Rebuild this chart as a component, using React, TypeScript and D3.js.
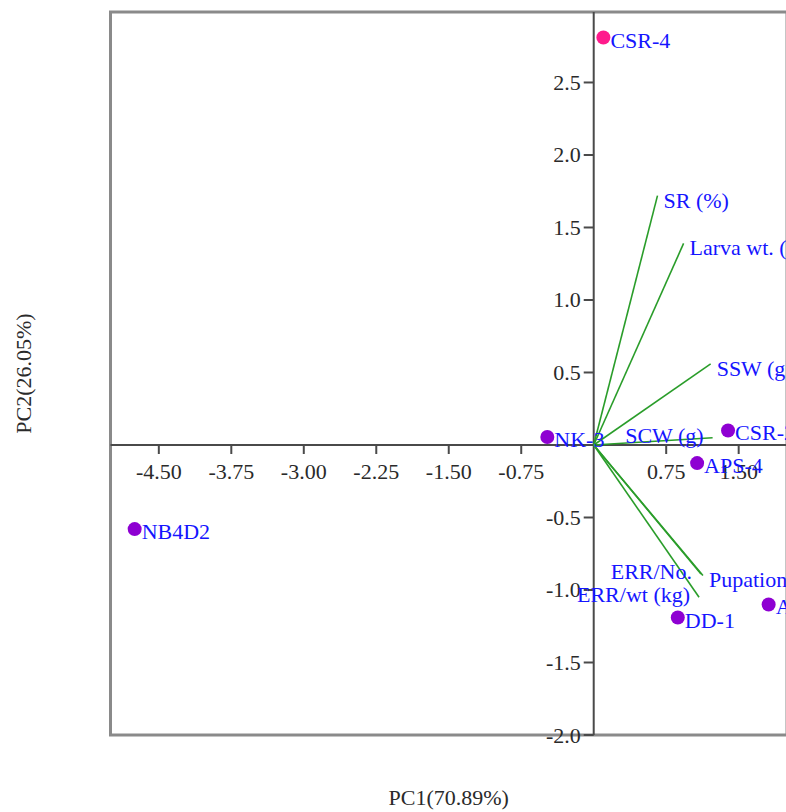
import React from "react";
import * as d3 from "d3";

// Observations (scores)
const obsNames = ["CSR-4", "NK-3", "CSR-2", "APS-4", "DD-1", "APS-1", "NB4D2"];
const obsPC1 = [0.1, -0.48, 1.39, 1.07, 0.87, 1.81, -4.75];
const obsPC2 = [2.81, 0.055, 0.1, -0.125, -1.19, -1.1, -0.58];
const highlighted = ["CSR-4"];

// Variables (loadings)
const varNames = ["SR (%)", "Larva wt. (g)", "SSW (g)", "SCW (g)", "Pupation (%)", "ERR/No.", "ERR/wt (kg)"];
const varPC1 = [0.66, 0.93, 1.21, 1.23, 1.13, 1.11, 1.09];
const varPC2 = [1.72, 1.39, 0.56, 0.05, -0.9, -0.89, -1.05];
const varLabelSide = ["right", "right", "right", "left", "right", "left", "left"];

const xTicks = [-4.5, -3.75, -3.0, -2.25, -1.5, -0.75, 0.75, 1.5];
const yTicks = [2.5, 2.0, 1.5, 1.0, 0.5, -0.5, -1.0, -1.5, -2.0];
const xDomain = [-5, 2];
const yDomain = [-2, 2.986];
const xTitle = "PC1(70.89%)";
const yTitle = "PC2(26.05%)";

const W = 786;
const H = 812;
const L = 110.5, R = 787, T = 12, B = 735;
const FONT = "'Liberation Serif', 'Times New Roman', serif";
const FS = 22;

export default function App() {
  const x = d3.scaleLinear().domain(xDomain).range([L, R]);
  const y = d3.scaleLinear().domain(yDomain).range([B, T]);
  const x0 = x(0);
  const y0 = y(0);

  return (
    <div style={{ position: "fixed", left: 0, top: 0, width: W, height: H, background: "#fff" }}>
      <svg width={W} height={H} style={{ display: "block" }} fontFamily={FONT}>
        {/* frame */}
        <rect x={L} y={T} width={R - L} height={B - T} fill="none" stroke="#8a8a8a" strokeWidth={3} />
        {/* zero axes */}
        <line x1={L} x2={R} y1={y0} y2={y0} stroke="#4a4a4a" strokeWidth={2} />
        <line x1={x0} x2={x0} y1={T} y2={B} stroke="#4a4a4a" strokeWidth={2} />
        {/* x ticks */}
        {xTicks.map((t) => (
          <g key={"xt" + t}>
            <line x1={x(t)} x2={x(t)} y1={y0} y2={y0 + 9} stroke="#4a4a4a" strokeWidth={2} />
            <text x={x(t)} y={y0 + 34} textAnchor="middle" fontSize={FS} fill="#2a2a2a">
              {t.toFixed(2)}
            </text>
          </g>
        ))}
        {/* y ticks */}
        {yTicks.map((t) => (
          <g key={"yt" + t}>
            <line x1={x0 - 10} x2={x0} y1={y(t)} y2={y(t)} stroke="#4a4a4a" strokeWidth={2} />
            <text x={x0 - 13} y={y(t) + 7.5} textAnchor="end" fontSize={FS} fill="#2a2a2a">
              {t.toFixed(1)}
            </text>
          </g>
        ))}
        {/* loading vectors */}
        {varNames.map((n, i) => (
          <line
            key={"v" + n}
            x1={x0}
            y1={y0}
            x2={x(varPC1[i])}
            y2={y(varPC2[i])}
            stroke="#2a9d2a"
            strokeWidth={1.6}
          />
        ))}
        {/* points */}
        {obsNames.map((n, i) => (
          <circle
            key={"p" + n}
            cx={x(obsPC1[i])}
            cy={y(obsPC2[i])}
            r={7}
            fill={highlighted.includes(n) ? "#ff1a8c" : "#8e00d2"}
          />
        ))}
        {/* point labels */}
        {obsNames.map((n, i) => (
          <text key={"pl" + n} x={x(obsPC1[i]) + 7} y={y(obsPC2[i]) + 10} fontSize={FS} fill="#1515ff">
            {n}
          </text>
        ))}
        {/* vector labels */}
        {varNames.map((n, i) => {
          const right = varLabelSide[i] === "right";
          return (
            <text
              key={"vl" + n}
              x={x(varPC1[i]) + (right ? 6 : -9)}
              y={y(varPC2[i]) + (right ? 12 : 5)}
              textAnchor={right ? "start" : "end"}
              fontSize={FS}
              fill="#1515ff"
            >
              {n}
            </text>
          );
        })}
        {/* axis titles */}
        <text x={(L + R) / 2} y={805} textAnchor="middle" fontSize={FS} fill="#2a2a2a">
          {xTitle}
        </text>
        <text
          transform={`translate(31, ${(T + B) / 2}) rotate(-90)`}
          textAnchor="middle"
          fontSize={FS}
          fill="#2a2a2a"
        >
          {yTitle}
        </text>
      </svg>
    </div>
  );
}
